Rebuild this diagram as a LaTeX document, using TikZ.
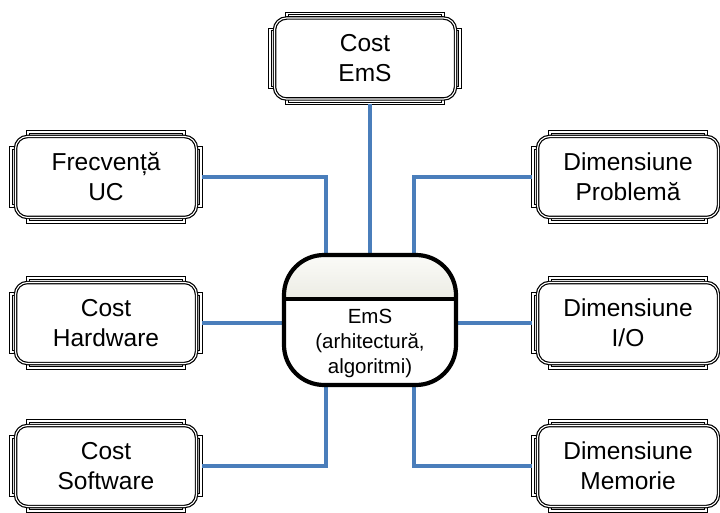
\documentclass[tikz,border=0pt]{standalone}
\usepackage{fontspec}
\setmainfont{Liberation Sans}
\usetikzlibrary{calc}
\definecolor{connblue}{RGB}{74,126,187}
\definecolor{emstop}{RGB}{251,251,248}
\definecolor{emsbot}{RGB}{236,236,228}
\newcommand\plaque[3]{%
  \node[boxshape] (#1) at (#2) {};
  \path[dbl] ($(#1.north west)+(18,1)$) rectangle ($(#1.south east)+(-18,-1)$);
  \path[dbl] ($(#1.north west)+(1,17)$) rectangle ($(#1.south east)+(-1,-17)$);
  \path[dbl, rounded corners=12pt] ($(#1.north west)+(5.5,5.5)$) rectangle ($(#1.south east)+(-5.5,-5.5)$);
  \node[boxtext] (#1t) at (#1.center) {#3};
}
\begin{document}
\begin{tikzpicture}[x=1pt,y=-1pt,
  dbl/.style={draw=black, double=white, line width=1.2pt, double distance=1.1pt, fill=white},
  boxshape/.style={minimum width=192pt, minimum height=92pt, inner sep=0pt, outer sep=0pt},
  boxtext/.style={font=\fontsize{24.5}{30}\selectfont, align=center, inner sep=0pt},
  conn/.style={draw=connblue, line width=3.6pt},
  emsshape/.style={minimum width=172pt, minimum height=130pt, inner sep=0pt, outer sep=0pt},
  emstext/.style={font=\fontsize{20.5}{25}\selectfont, align=center, inner sep=0pt}]
\useasboundingbox (0,0) rectangle (720,513);
\fill[white] (0,0) rectangle (720,513);
\clip (0,0) rectangle (720,513);

\plaque{ce}{365,58.5}{Cost\\EmS}
\plaque{fr}{106,177}{Frecvență\\UC}
\plaque{hw}{106,323}{Cost\\Hardware}
\plaque{sw}{106,466}{Cost\\Software}
\plaque{dp}{628,177}{Dimensiune\\Problemă}
\plaque{dio}{628,323}{Dimensiune\\I/O}
\plaque{dm}{628,466}{Dimensiune\\Memorie}

\node[emsshape] (ems) at (370,320) {};

\draw[conn] (ems.north) -- (ems.north |- ce.south);
\draw[conn] (fr.east) -| ($(ems.north)+(-44,0)$);
\draw[conn] (hw.east) -- (hw.east -| ems.west);
\draw[conn] (sw.east) -| ($(ems.south)+(-44,0)$);
\draw[conn] (dp.west) -| ($(ems.north)+(44,0)$);
\draw[conn] (dio.west) -- (dio.west -| ems.east);
\draw[conn] (dm.west) -| ($(ems.south)+(44,0)$);

\begin{scope}
  \clip[rounded corners=40pt] (ems.north west) rectangle (ems.south east);
  \fill[white] (ems.north west) rectangle (ems.south east);
  \shade[top color=emstop, bottom color=emsbot] (ems.north west) rectangle ($(ems.north east)+(0,44)$);
\end{scope}
\draw[line width=3.5pt] ($(ems.north west)+(0,44)$) -- ($(ems.north east)+(0,44)$);
\draw[line width=4.2pt, rounded corners=40pt] (ems.north west) rectangle (ems.south east);
\node[emstext] (emst) at ($(ems.center)+(0,23)$) {EmS\\(arhitectură,\\algoritmi)};
\end{tikzpicture}
\end{document}
